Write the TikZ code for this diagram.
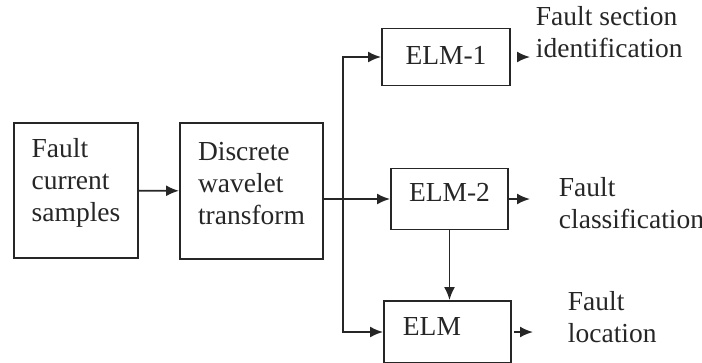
\documentclass[tikz,border=0pt]{standalone}
\usepackage{fontspec}
\setmainfont{Liberation Serif}
\usetikzlibrary{arrows.meta,positioning}
\newlength{\pix}
\setlength{\pix}{0.4pt}
\tikzstyle{block}=[rectangle,draw=black!85,line width=0.75pt,inner sep=0pt,
  align=left,font=\fontsize{11}{12.8}\selectfont]
\tikzstyle{outtext}=[inner sep=0pt,align=left,text=black!85,
  font=\fontsize{11}{12.8}\selectfont]

\begin{document}
\begin{tikzpicture}[x=0.4pt,y=-0.4pt,>={Latex[length=5.2pt,width=4.4pt]},
  line width=0.75pt,draw=black!85,text=black!85]
  \path[use as bounding box,clip] (0,0) rectangle (702,362);

  % input side
  \node[block,minimum width=124\pix,minimum height=135\pix,text depth=8.8pt]
    (fcs) at (76,190.5) {Fault\\current\\samples};
  \node[block,minimum width=143\pix,minimum height=136\pix,text depth=6.4pt]
    (dwt) at (251.5,191) {Discrete\\wavelet\\transform};
  \draw[->] (fcs) -- (dwt);

  % the three machines
  \node[block,minimum width=128\pix,minimum height=57\pix,text depth=1pt]
    (elm1) at (446,57) {ELM-1};
  \node[block,minimum width=117\pix,minimum height=61\pix,text depth=5pt]
    (elm2) at (449.5,199) {ELM-2};
  \node[block,minimum width=127\pix,minimum height=62\pix] (elm) at (447.5,332) {};
  \node[outtext,anchor=base west] (elmname) at (402,335) {ELM};

  \coordinate (split) at (343,199);
  \draw[->] (dwt.east |- elm2.west) -- (elm2.west);
  \draw[->] (split) |- (elm1.west);
  \draw[->] (split) |- (elm.west);
  \draw[->] (elm2.south) -- (elm2.south |- elm.north);

  % outputs
  \coordinate (o1) at (530,57);
  \coordinate (o2) at (530,199);
  \coordinate (o3) at (533,332);
  \draw[->,shorten <=6\pix] (elm1.east) -- (o1);
  \draw[->] (elm2.east) -- (o2);
  \draw[->,shorten <=2\pix] (elm.east) -- (o3);
  \node[outtext,anchor=base west] (out1) at (535,57) {Fault section\\identification};
  \node[outtext,anchor=base west] (out2) at (558,228) {Fault\\classification};
  \node[outtext,anchor=base west] (out3) at (567,342) {Fault\\location};
\end{tikzpicture}
\end{document}
